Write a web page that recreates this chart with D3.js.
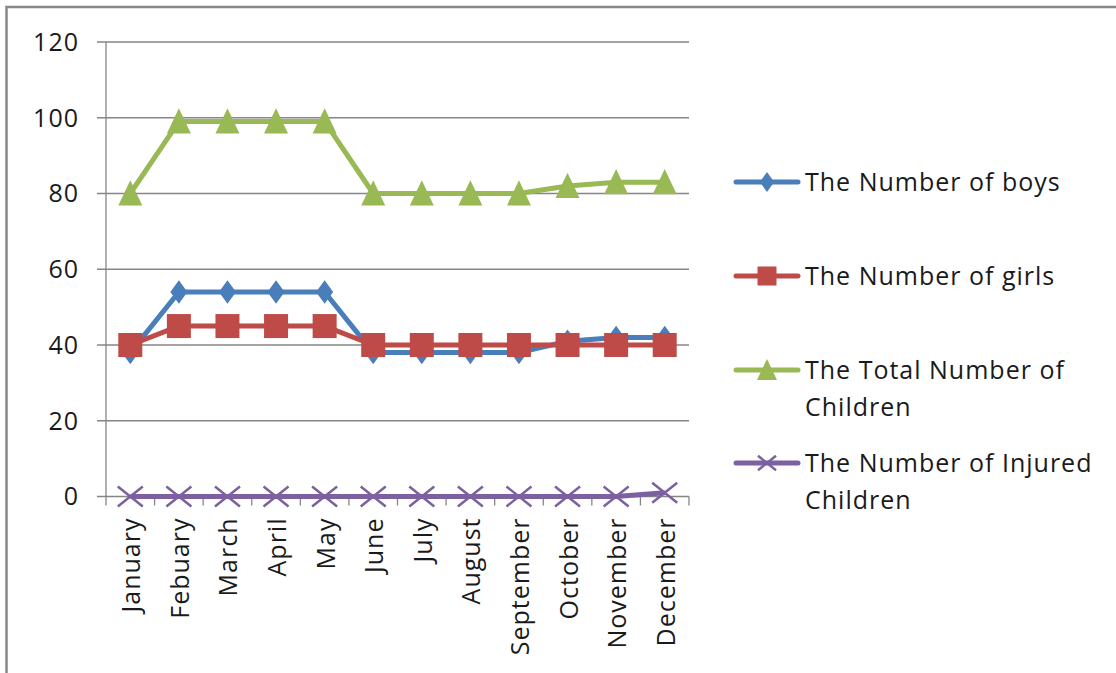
<!DOCTYPE html>
<html><head><meta charset="utf-8">
<script src="https://cdn.jsdelivr.net/npm/d3@7"></script>
<style>
html,body{margin:0;padding:0;background:#fff;}
svg{display:block;}
text{font-family:"Open Sans",Lato,sans-serif;fill:#1a1a1a;letter-spacing:1px;}
</style></head>
<body><svg id="c" width="1116" height="673"></svg>
<script>
const months = ["January","Febuary","March","April","May","June","July","August","September","October","November","December"];
const boys = [38,54,54,54,54,38,38,38,38,41,42,42];
const girls = [40,45,45,45,45,40,40,40,40,40,40,40];
const total = [80,99,99,99,99,80,80,80,80,82,83,83];
const injured = [0,0,0,0,0,0,0,0,0,0,0,1];
const yTicks = [0,20,40,60,80,100,120];
const seriesNames = ["The Number of boys","The Number of girls","The Total Number of Children","The Number of Injured Children"];
const seriesColors = ["#4A7EBB","#BE4B48","#98B954","#7D60A0"];
const seriesMarkers = ["diamond","square","triangle","cross"];
const seriesData = [boys, girls, total, injured];

const svg = d3.select("#c");
const L = 106, R = 689, T = 42, B = 496.5;
const x = d3.scaleBand().domain(months).range([L, R]);
const y = d3.scaleLinear().domain([0,120]).range([B, T]);
const cx = m => x(m) + x.bandwidth()/2;
const grid = "#868686";
const FS = 25;

// frame
svg.append("path").attr("d",`M6.5,673 L6.5,7 L1116,7`).attr("fill","none").attr("stroke","#888").attr("stroke-width",2.5);

// gridlines
svg.append("g").selectAll("line").data(yTicks).join("line")
  .attr("x1", L-9).attr("x2", R).attr("y1", d=>y(d)).attr("y2", d=>y(d))
  .attr("stroke", grid).attr("stroke-width", 1.3);
// y axis line
svg.append("line").attr("x1",L).attr("x2",L).attr("y1",T).attr("y2",B)
  .attr("stroke",grid).attr("stroke-width",1.3);
// x ticks at band boundaries
const bounds = months.map(m=>x(m)).concat([R]);
svg.append("g").selectAll("line").data(bounds).join("line")
  .attr("x1",d=>d).attr("x2",d=>d).attr("y1",B).attr("y2",B+9)
  .attr("stroke",grid).attr("stroke-width",1.3);

// y labels
svg.append("g").selectAll("text").data(yTicks).join("text")
  .attr("x", 79).attr("y", d=>y(d)).attr("dy","0.35em")
  .attr("text-anchor","end").attr("font-size",FS).text(d=>d);

// x labels
svg.append("g").selectAll("text").data(months).join("text")
  .attr("transform", m=>`translate(${cx(m)+1},${B+21}) rotate(-90)`)
  .attr("dy","0.36em").attr("text-anchor","end").attr("font-size",FS).text(m=>m);

function marker(g, type, color, px, py, s){
  if(type==="diamond"){
    g.append("path").attr("d",`M${px},${py-s*0.62} L${px+s*0.45},${py} L${px},${py+s*0.62} L${px-s*0.45},${py} Z`).attr("fill",color);
  } else if(type==="square"){
    g.append("rect").attr("x",px-s/2).attr("y",py-s/2).attr("width",s).attr("height",s).attr("fill",color);
  } else if(type==="triangle"){
    g.append("path").attr("d",`M${px},${py-s*0.55} L${px+s*0.5},${py+s*0.5} L${px-s*0.5},${py+s*0.5} Z`).attr("fill",color);
  } else {
    const h = s/2;
    g.append("path").attr("d",`M${px-h},${py-h*0.8} L${px+h},${py+h*0.8} M${px-h},${py+h*0.8} L${px+h},${py-h*0.8}`)
      .attr("stroke",color).attr("stroke-width",2.5).attr("fill","none");
  }
}
const sizes = {diamond:19, square:24, triangle:24, cross:25};

const line = d3.line().x((d,i)=>cx(months[i])).y(d=>y(d));
seriesData.forEach((data, si)=>{
  const g = svg.append("g");
  g.append("path").attr("d", line(data)).attr("fill","none")
    .attr("stroke", seriesColors[si]).attr("stroke-width",5).attr("stroke-linejoin","round");
  data.forEach((v,i)=> marker(g, seriesMarkers[si], seriesColors[si], cx(months[i]), y(v), sizes[seriesMarkers[si]]));
});

// legend
const legY = [[182],[276],[370,407],[463,500]];
const legLines = [["The Number of boys"],["The Number of girls"],["The Total Number of","Children"],["The Number of Injured","Children"]];
const legSizes = {diamond:16, square:19, triangle:20, cross:18};
legY.forEach((ys, si)=>{
  const g = svg.append("g");
  g.append("line").attr("x1",736).attr("x2",798).attr("y1",ys[0]).attr("y2",ys[0])
    .attr("stroke",seriesColors[si]).attr("stroke-width",5).attr("stroke-linecap","round");
  marker(g, seriesMarkers[si], seriesColors[si], 767, ys[0], legSizes[seriesMarkers[si]]);
  legLines[si].forEach((t,k)=>{
    g.append("text").attr("x",805).attr("y",ys[k]).attr("dy","0.35em").attr("font-size",FS).text(t);
  });
});
</script></body></html>
